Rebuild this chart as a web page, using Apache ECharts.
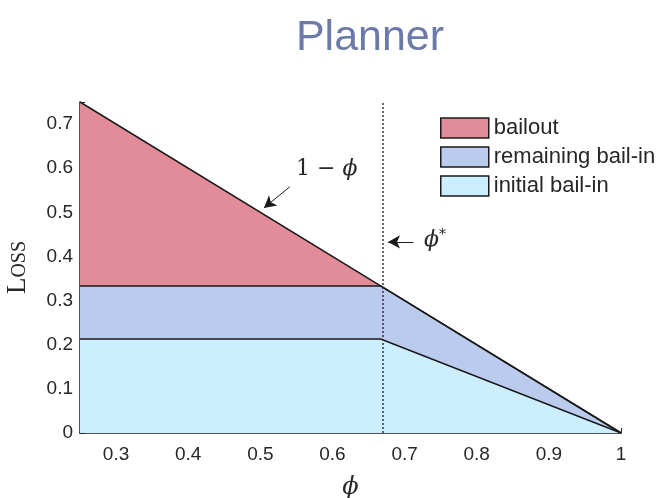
<!DOCTYPE html>
<html>
<head>
<meta charset="utf-8">
<script src="https://cdn.jsdelivr.net/npm/echarts@6/dist/echarts.min.js"></script>
<style>
  html, body { margin: 0; padding: 0; background: #fff; }
  #chart { width: 660px; height: 498px; }
</style>
</head>
<body>
<div id="chart"></div>
<script>
// phi values where the layers change slope
var phiPts = [0.25, 0.6667, 1];
// layer thicknesses, bottom to top
var initialBailin = [0.213, 0.213, 0];
var remainingBailin = [0.1203, 0.1203, 0];
var bailout = [0.4167, 0, 0];
var phiStar = 0.6667;
var xTicks = [0.3, 0.4, 0.5, 0.6, 0.7, 0.8, 0.9, 1];

// cumulative tops, drawn back to front
function pairs(vals) {
    return phiPts.map(function (x, i) { return [x, vals[i]]; });
}
var topInitial = initialBailin.slice();
var topRemaining = initialBailin.map(function (v, i) { return v + remainingBailin[i]; });
var topBailout = topRemaining.map(function (v, i) { return v + bailout[i]; });

var edge = '#1a1a1a';
var txt = '#262626';
var font = 'Liberation Sans, Arial, sans-serif';
var serif = 'DejaVu Serif, serif';
var cPink = '#e28c99', cBlue = '#bbcbee', cCyan = '#cceeff';

var option = {
    animation: false,
    title: {
        text: 'Planner',
        left: 365,
        top: 12,
        textAlign: 'center',
        textStyle: {fontFamily: font, fontSize: 43, fontWeight: 'normal', color: '#6b7aa6'}
    },
    grid: {left: 80, right: 39, top: 102, bottom: 65, containLabel: false, outerBoundsMode: 'none'},
    legend: {
        orient: 'vertical',
        left: 435,
        top: 112,
        itemWidth: 48,
        itemHeight: 20,
        itemGap: 7,
        icon: 'rect',
        textStyle: {fontFamily: font, fontSize: 22, color: txt},
        data: [
            {name: 'bailout', itemStyle: {color: cPink, borderColor: edge, borderWidth: 1.5}},
            {name: 'remaining bail-in', itemStyle: {color: cBlue, borderColor: edge, borderWidth: 1.5}},
            {name: 'initial bail-in', itemStyle: {color: cCyan, borderColor: edge, borderWidth: 1.5}}
        ]
    },
    xAxis: {
        type: 'value',
        min: 0.25,
        max: 1,
        interval: 0.05,
        name: 'ϕ',
        nameLocation: 'middle',
        nameGap: 43,
        nameTextStyle: {fontFamily: serif, fontStyle: 'italic', fontSize: 24, color: txt},
        axisLine: {lineStyle: {color: edge, width: 1.5}},
        axisTick: {
            inside: true, length: 5, lineStyle: {color: txt},
            customValues: xTicks
        },
        axisLabel: {
            fontFamily: font, fontSize: 19, color: txt, margin: 12,
            customValues: xTicks,
            formatter: function (v) { return String(+v.toFixed(2)); }
        },
        splitLine: {show: false}
    },
    yAxis: {
        type: 'value',
        min: 0,
        max: 0.75,
        interval: 0.1,
        name: '{a|L}{b|OSS}',
        nameLocation: 'middle',
        nameGap: 49,
        nameRotate: 90,
        nameTextStyle: {
            rich: {
                a: {fontFamily: 'Liberation Serif, serif', fontSize: 27, color: txt},
                b: {fontFamily: 'Liberation Serif, serif', fontSize: 20, color: txt, padding: [4, 0, 0, 0]}
            }
        },
        axisLine: {show: true, lineStyle: {color: edge, width: 1.5}},
        axisTick: {show: true, inside: true, length: 5, lineStyle: {color: txt}},
        axisLabel: {
            fontFamily: font, fontSize: 19, color: txt, margin: 7,
            formatter: function (v) { return v > 0.71 ? '' : String(+v.toFixed(1)); }
        },
        splitLine: {show: false}
    },
    series: [
        {
            name: 'bailout',
            type: 'line',
            symbol: 'none',
            data: pairs(topBailout),
            lineStyle: {color: edge, width: 1.5},
            itemStyle: {color: cPink},
            areaStyle: {color: cPink, opacity: 1},
            markLine: {
                silent: true,
                symbol: ['none', 'arrow'],
                symbolSize: [10, 12],
                label: {show: false},
                lineStyle: {color: edge, type: 'solid', width: 1},
                data: [
                    [{coord: [0.541, 0.558]}, {coord: [0.505, 0.51]}],
                    [{coord: [0.712, 0.433]}, {coord: [0.677, 0.433]}]
                ]
            },
            markPoint: {
                silent: true,
                symbol: 'circle',
                symbolSize: 0,
                data: [
                    {coord: [0.592, 0.597], label: {show: true, formatter: '1 − {i|ϕ}', fontFamily: serif, fontSize: 22, color: txt,
                        rich: {i: {fontFamily: serif, fontStyle: 'italic', fontSize: 22, color: txt}}}},
                    {coord: [0.742, 0.436], label: {show: true, formatter: '{i|ϕ}{s|*}', color: txt,
                        rich: {
                            i: {fontFamily: serif, fontStyle: 'italic', fontSize: 22, color: txt},
                            s: {fontFamily: serif, fontSize: 14, color: txt, verticalAlign: 'top', padding: [0, 0, 10, 0]}
                        }}}
                ]
            }
        },
        {
            name: 'remaining bail-in',
            type: 'line',
            symbol: 'none',
            data: pairs(topRemaining),
            lineStyle: {color: edge, width: 1.5},
            itemStyle: {color: cBlue},
            areaStyle: {color: cBlue, opacity: 1}
        },
        {
            name: 'initial bail-in',
            type: 'line',
            symbol: 'none',
            data: pairs(topInitial),
            lineStyle: {color: edge, width: 1.5},
            itemStyle: {color: cCyan},
            areaStyle: {color: cCyan, opacity: 1},
            markLine: {
                silent: true,
                symbol: 'none',
                label: {show: false},
                lineStyle: {color: '#333', type: [2, 2], width: 1.5},
                data: [{xAxis: phiStar}]
            }
        }
    ]
};

var chart = echarts.init(document.getElementById('chart'));
chart.setOption(option);
</script>
</body>
</html>
